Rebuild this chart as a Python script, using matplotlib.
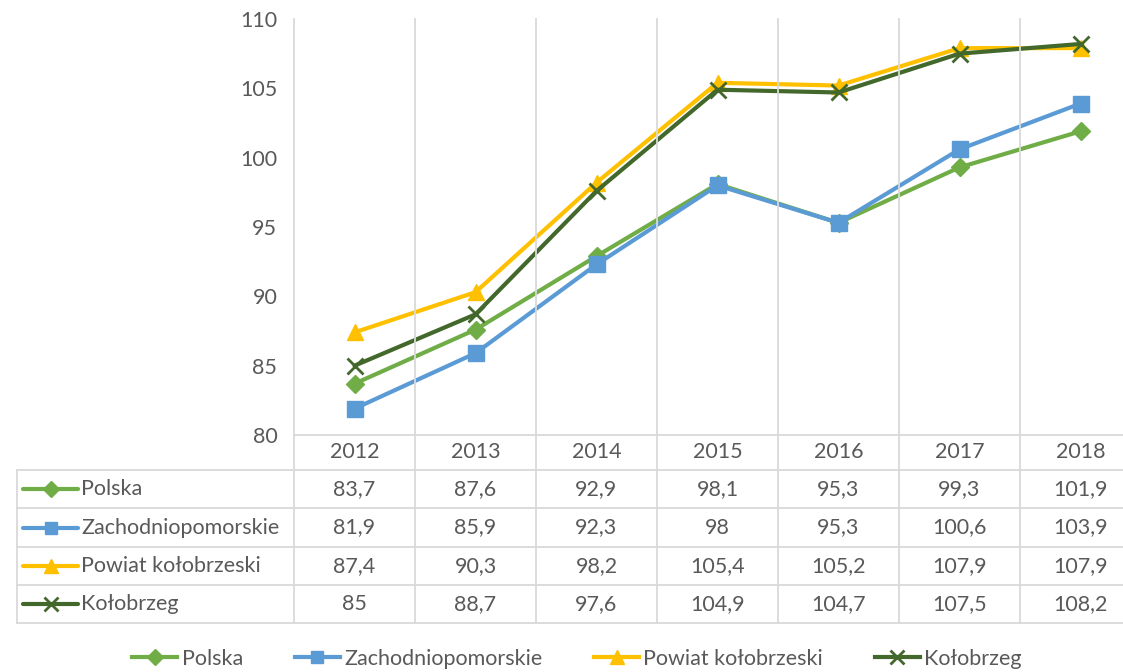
import matplotlib
matplotlib.use("Agg")
import matplotlib.pyplot as plt
from matplotlib.transforms import blended_transform_factory
from matplotlib.lines import Line2D

years = ["2012", "2013", "2014", "2015", "2016", "2017", "2018"]
series_names = ["Polska", "Zachodniopomorskie", "Powiat kołobrzeski", "Kołobrzeg"]
polska = [83.7, 87.6, 92.9, 98.1, 95.3, 99.3, 101.9]
zachodniopomorskie = [81.9, 85.9, 92.3, 98.0, 95.3, 100.6, 103.9]
powiat = [87.4, 90.3, 98.2, 105.4, 105.2, 107.9, 107.9]
kolobrzeg = [85.0, 88.7, 97.6, 104.9, 104.7, 107.5, 108.2]
y_ticks = [80, 85, 90, 95, 100, 105, 110]

series = [polska, zachodniopomorskie, powiat, kolobrzeg]
colors = ["#70AD47", "#5B9BD5", "#FFC000", "#43682B"]
markers = ["D", "s", "^", "x"]
msizes = [9, 11, 12, 12]

W, H = 1123, 672
FONT = "Lato"
TXT = "#595959"
GRID = "#D9D9D9"
FS = 15.5

fig = plt.figure(figsize=(W / 100, H / 100), dpi=100)
plt.rcParams["font.family"] = [FONT, "DejaVu Sans"]

def fx(px):
    return px / W

def fy(py):
    return 1 - py / H

x_left, x_right = 294, 1141
y_top, y_bot = 19, 435
ax = fig.add_axes([fx(x_left), fy(y_bot), fx(x_right) - fx(x_left), fy(y_top) - fy(y_bot)])
ax.set_xlim(-0.5, len(years) - 0.5)
ax.set_ylim(80, 110)
ax.set_yticks(y_ticks)
ax.set_yticklabels([str(t) for t in y_ticks], fontsize=FS, color=TXT, family=[FONT, "DejaVu Sans"])
ax.tick_params(axis="y", length=0, pad=12)
ax.set_xticks([])
for s in ax.spines.values():
    s.set_visible(False)
ax.patch.set_alpha(0)

xs = list(range(len(years)))
for vals, c, m, ms in zip(series, colors, markers, msizes):
    if m == "x":
        ax.plot(xs, vals, color=c, lw=3.0, marker=m, ms=ms, mew=2.0, mec=c, solid_capstyle="round", zorder=3)
    else:
        ax.plot(xs, vals, color=c, lw=3.0, marker=m, ms=ms, mfc=c, mec=c, solid_capstyle="round", zorder=3)

# overlay for table
ov = fig.add_axes([0, 0, 1, 1])
ov.set_xlim(0, W)
ov.set_ylim(H, 0)
ov.axis("off")
ov.patch.set_alpha(0)
bt = blended_transform_factory(ax.transData, ov.transData)

tbl_left = 17
row_lines = [470, 508, 547, 585, 623]
header_top = 435
lw_g = 1.3
for i in range(len(years) + 1):
    ov.plot([i - 0.5, i - 0.5], [y_top, row_lines[-1]], color=GRID, lw=lw_g, transform=bt, clip_on=False, zorder=1)
x_end = len(years) - 0.5
ov.plot([-0.5, x_end], [header_top, header_top], color=GRID, lw=lw_g, transform=bt, clip_on=False, zorder=1)
for yl in row_lines:
    ov.plot([tbl_left, W + 50], [yl, yl], color=GRID, lw=lw_g, clip_on=False, zorder=1)
ov.plot([tbl_left, tbl_left], [row_lines[0], row_lines[-1]], color=GRID, lw=lw_g, zorder=1)

for i, yr in enumerate(years):
    ov.text(i, (header_top + row_lines[0]) / 2, yr, transform=bt, ha="center", va="center",
            fontsize=FS, color=TXT)

def fmt(v):
    return f"{v:g}".replace(".", ",")

for r, (name, vals, c, m, ms) in enumerate(zip(series_names, series, colors, markers, msizes)):
    yc = (row_lines[r] + row_lines[r + 1]) / 2
    kw = dict(color=c, lw=3.0, solid_capstyle="round")
    ov.plot([23, 78], [yc, yc], **kw)
    if m == "x":
        ov.plot([50.5], [yc], marker=m, ms=ms * 0.8, mew=2.0, mec=c, color=c)
    else:
        ov.plot([50.5], [yc], marker=m, ms=ms * 0.85, mfc=c, mec=c, color=c)
    ov.text(81, yc, name, ha="left", va="center", fontsize=FS, color=TXT)
    for i, v in enumerate(vals):
        ov.text(i, yc, fmt(v), transform=bt, ha="center", va="center", fontsize=FS, color=TXT)

handles = []
for name, c, m, ms in zip(series_names, colors, markers, msizes):
    if m == "x":
        h = Line2D([], [], color=c, lw=3.0, marker=m, ms=ms * 0.8, mew=2.0, mec=c)
    else:
        h = Line2D([], [], color=c, lw=3.0, marker=m, ms=ms * 0.85, mfc=c, mec=c)
    handles.append(h)
leg = fig.legend(handles, series_names, loc="center", bbox_to_anchor=(fx(577), fy(659)),
                 ncol=4, frameon=False, fontsize=FS, handlelength=2.1, handletextpad=0.2,
                 columnspacing=2.4)
for t in leg.get_texts():
    t.set_color(TXT)

fig.savefig("out.png", dpi=100)
